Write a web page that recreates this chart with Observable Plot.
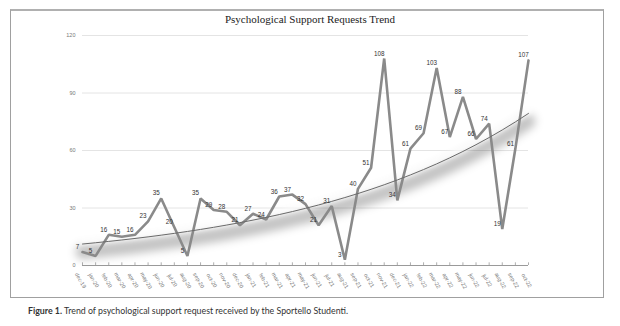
<!DOCTYPE html>
<html><head><meta charset="utf-8">
<script src="https://cdn.jsdelivr.net/npm/d3@7"></script>
<script src="https://cdn.jsdelivr.net/npm/@observablehq/plot@0.6"></script>
<style>
body{margin:0;background:#fff;width:620px;height:326px;overflow:hidden;position:relative;font-family:"Liberation Sans",Arial,sans-serif}
#box{position:absolute;left:10px;top:9px;width:594px;height:289px;border:1px solid #a0a0a0;border-top:2px solid #b0b0b0;box-sizing:border-box}
#chart{position:absolute;left:0;top:0}
#title{position:absolute;left:0;width:620px;top:13px;text-align:center;font-family:"Liberation Serif","Times New Roman",serif;font-size:11px;color:#222}
#caption{position:absolute;left:28px;top:305px;font-family:"Lato",sans-serif;font-size:8.8px;color:#333;white-space:nowrap}
</style></head><body>
<div id="box"></div>
<div id="chart"></div>
<div id="title">Psychological Support Requests Trend</div>
<div id="caption"><b>Figure 1.</b> Trend of psychological support request received by the Sportello Studenti.</div>
<script>
const months = ["dec-19","jan-20","feb-20","mar-20","apr-20","may-20","jun-20","jul-20","aug-20","sep-20","oct-20","nov-20",
  "dec-20","jan-21","feb-21","mar-21","apr-21","may-21","jun-21","jul-21","aug-21","sep-21","oct-21","nov-21",
  "dec-21","jan-22","feb-22","mar-22","apr-22","may-22","jun-22","jul-22","aug-22","sep-22","oct-22"];
const requests = [7,5,16,15,16,23,35,20,5,35,29,28,21,27,24,36,37,32,21,31,3,40,51,108,34,61,69,103,67,88,66,74,19,61,107];
const yTicks = [0,30,60,90,120];

const data = months.map((m, i) => ({i, month: m, value: requests[i]}));

// exponential trend line (least squares fit on ln(value)), as in the original chart
const n = data.length;
const mx = d3.mean(data, d => d.i);
const my = d3.mean(data, d => Math.log(d.value));
const b = d3.sum(data, d => (d.i - mx) * (Math.log(d.value) - my)) / d3.sum(data, d => (d.i - mx) ** 2);
const a = Math.exp(my - b * mx);
const trend = data.map(d => ({i: d.i, t: a * Math.exp(b * d.i)}));

const chart = Plot.plot({
  width: 620,
  height: 300,
  marginLeft: 82,
  marginRight: 92,
  marginTop: 35,
  marginBottom: 35,
  style: {background: "transparent", fontFamily: "Liberation Sans, Arial, sans-serif", overflow: "visible"},
  x: {domain: [0, n - 1], axis: null},
  y: {domain: [0, 120], axis: null},
  marks: [
    Plot.ruleY(yTicks.slice(1), {stroke: "#e4e4e4", strokeWidth: 1}),
    Plot.axisY({ticks: yTicks, tickSize: 0, tickPadding: 7, fontSize: 5.5, fill: "#777", tickFormat: d => d}),
    Plot.ruleY([0], {stroke: "#9a9a9a", strokeWidth: 1}),
    Plot.ruleX(data, {x: "i", y1: 0, y2: 1.4, stroke: "#9a9a9a", strokeWidth: 0.8}),
    Plot.text(data, {x: "i", y: () => 0, text: "month", rotate: 60, dy: 15, dx: -2, fontSize: 5.5, fill: "#777"}),
    Plot.lineY(trend, {x: "i", y: "t", stroke: "#000", strokeOpacity: 0.24, strokeWidth: 14, dy: 8, ariaDescription: "trend-shadow"}),
    Plot.lineY(trend, {x: "i", y: "t", stroke: "#fff", strokeOpacity: 0.8, strokeWidth: 6, dy: -3, ariaDescription: "trend-glow"}),
    Plot.lineY(data, {x: "i", y: "value", stroke: "#8a8a8a", strokeWidth: 2.6, strokeLinejoin: "miter"}),
    Plot.lineY(trend, {x: "i", y: "t", stroke: "#6a6a6a", strokeWidth: 1}),
    Plot.text(data, {x: "i", y: "value", text: d => String(d.value), dx: -5, dy: -5, fontSize: 6.3, fill: "#333"})
  ]
});

const svg = d3.select(chart);
const defs = svg.insert("defs", ":first-child");
defs.append("filter").attr("id", "blurShadow").attr("x", "-5%").attr("y", "-60%").attr("width", "110%").attr("height", "220%")
  .append("feGaussianBlur").attr("stdDeviation", 4.5);
defs.append("filter").attr("id", "blurGlow").attr("x", "-5%").attr("y", "-60%").attr("width", "110%").attr("height", "220%")
  .append("feGaussianBlur").attr("stdDeviation", 2);
svg.select("g[aria-description='trend-shadow']").attr("filter", "url(#blurShadow)");
svg.select("g[aria-description='trend-glow']").attr("filter", "url(#blurGlow)");

document.getElementById("chart").append(chart);
</script>
</body></html>
